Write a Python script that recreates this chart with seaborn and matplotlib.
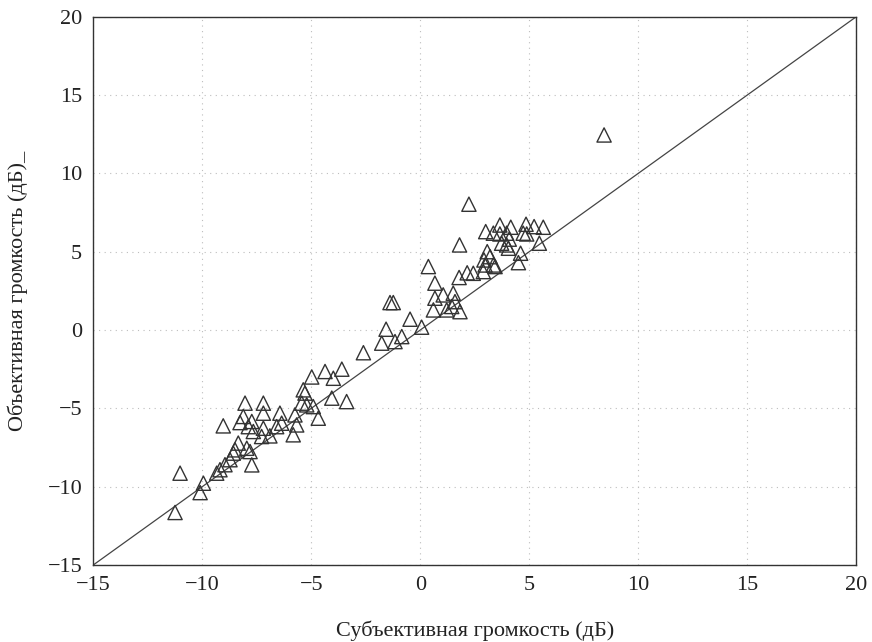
import matplotlib
matplotlib.use("Agg")
import matplotlib.pyplot as plt
import seaborn as sns
import pandas as pd

# Subjective loudness (dB) -> x
subjective = [
    8.43, 2.23, 1.80, 3.00, 3.35, 3.65, 4.15, 3.65, 3.96, 4.08,
    3.73, 3.96, 4.04, 4.85, 5.22, 5.64, 4.72, 4.88, 5.46, 4.60,
    4.50, 3.07, 3.20, 2.92, 2.97, 3.35, 3.43, 2.15, 2.43, 1.78,
    0.37, 2.89, 0.67, 1.05, 0.67, 1.51, 1.59, 1.44, 0.60, 1.21,
    1.82, -0.47, 0.06,
    -1.39, -1.24, -1.57, -1.77, -1.16, -0.85, -2.61, -3.60, -3.99, -4.06,
    -3.38,
    -4.98, -4.37, -5.37, -5.29, -5.44, -5.21, -4.91, -4.68, -5.75, -5.67,
    -5.83, -6.44, -6.36, -6.59, -7.20, -8.04, -7.20, -7.73, -7.89, -7.20,
    -7.28, -7.66, -8.12, -7.96, -7.81, -7.73,
    -9.04, -8.27, -6.90, -8.35, -8.50, -8.58, -8.73, -8.96, -9.19, -9.34,
    -11.02, -9.95, -10.10, -11.25,
]
# Objective loudness (dB) -> y
objective = [
    12.45, 8.03, 5.43, 6.28, 6.18, 6.70, 6.56, 6.13, 6.18, 5.80,
    5.54, 5.43, 5.22, 6.75, 6.60, 6.56, 6.18, 6.13, 5.54, 4.90,
    4.30, 5.00, 4.68, 4.47, 4.15, 4.15, 4.05, 3.65, 3.62, 3.35,
    4.05, 3.73, 2.99, 2.24, 2.03, 2.35, 1.81, 1.50, 1.28, 1.28,
    1.17, 0.69, 0.18,
    1.75, 1.75, 0.05, -0.84, -0.74, -0.42, -1.45, -2.50, -3.08, -4.35,
    -4.57,
    -3.00, -2.65, -3.82, -4.03, -4.67, -4.78, -4.89, -5.63, -5.42, -6.06,
    -6.69, -5.31, -5.95, -6.17, -4.67, -4.67, -5.31, -5.84, -6.17, -6.27,
    -6.80, -6.48, -5.52, -7.55, -7.76, -8.61,
    -6.12, -5.91, -6.76, -7.22, -7.65, -7.86, -8.28, -8.60, -8.92, -9.14,
    -9.14, -9.78, -10.38, -11.65,
]
ticks = [-15, -10, -5, 0, 5, 10, 15, 20]
xlabel = "Субъективная громкость (дБ)"
ylabel = "Объективная громкость (дБ)_"

df = pd.DataFrame({"subj": subjective, "obj": objective})

sns.set_theme(style="white")
plt.rcParams["font.family"] = ["Liberation Serif", "DejaVu Serif"]
plt.rcParams["mathtext.fontset"] = "stix"

fig = plt.figure(figsize=(8.72, 6.42), dpi=100)
ax = fig.add_axes([0.107, 0.12, 0.875, 0.854])

ax.axline((0, 0), slope=1, color="#444444", linewidth=0.9, zorder=2)
sns.scatterplot(data=df, x="subj", y="obj", ax=ax, marker="^", s=105,
                facecolor="none", edgecolor="#333333", linewidth=1.0,
                zorder=3)

ax.set_xlim(-15, 20)
ax.set_ylim(-15, 20)
ax.set_xticks(ticks)
ax.set_yticks(ticks)
ax.grid(True, color="#bdbdbd", linestyle=(0, (1, 4)), linewidth=0.8)
ax.set_axisbelow(True)

for sp in ax.spines.values():
    sp.set_color("#333333")
    sp.set_linewidth(1.0)
    sp.set_visible(True)

ax.tick_params(direction="in", length=5, width=0.9, color="#333333",
               labelsize=16, labelcolor="#222222", pad=8)
ax.set_xlabel(xlabel, fontsize=16, color="#222222", labelpad=18)
ax.set_ylabel(ylabel, fontsize=16, color="#222222", labelpad=14)

fig.savefig("out.png", dpi=100)
